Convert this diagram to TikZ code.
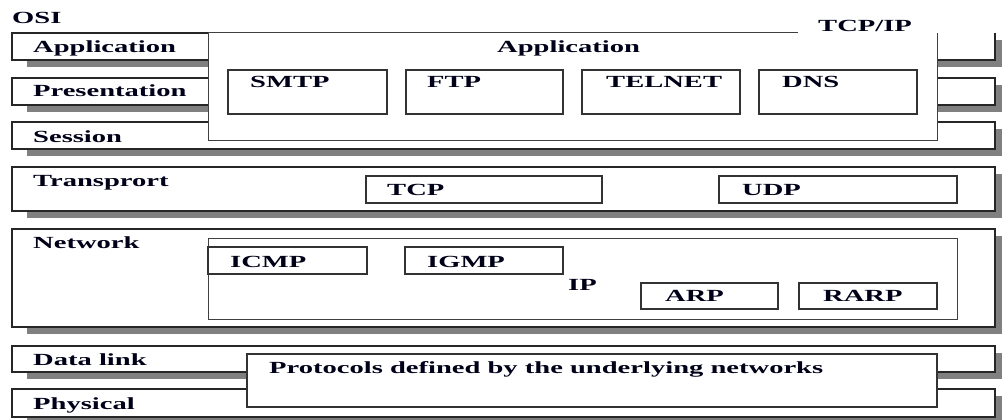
\documentclass[tikz,border=0pt]{standalone}
\usepackage{fontspec}
\newfontfamily\labfont{Liberation Serif}[FakeStretch=1.68]
\begin{document}
\begin{tikzpicture}[x=1pt,y=-1pt,
  lab/.style={anchor=base west, inner sep=0pt, text=black!90!blue, font=\labfont\bfseries\fontsize{17}{20}\selectfont},
  layer/.style={draw=black!85, line width=1.2pt, fill=white},
  inbox/.style={draw=black!80, line width=1.1pt, fill=white},
  shadowc/.style={fill=black!50, draw=none}]
\useasboundingbox (0,0) rectangle (1002,420);
% OSI layer shadows
\foreach \t/\b in {33/60, 78/105, 122/149, 167/211, 229/327, 346/372, 389/417}
  \fill[shadowc] (27,\t+7) rectangle (1003,\b+7);
% Application layer box (top line interrupted at TCP/IP label)
\fill[white] (12,33) rectangle (995,60);
\draw[layer, fill=none] (798,33) -- (12,33) -- (12,60) -- (995,60) -- (995,33);
\draw[layer] (12,78) rectangle (995,105);
\draw[layer] (12,122) rectangle (995,149);
\draw[layer] (12,167) rectangle (995,211);
\draw[layer] (12,229) rectangle (995,327);
\draw[layer] (12,346) rectangle (995,372);
\draw[layer] (12,389) rectangle (995,417);
% TCP/IP application box
\fill[white] (208,33) rectangle (937,140);
\draw[draw=black!75, line width=1pt] (798,33) -- (208,33) -- (208,140) -- (937,140) -- (937,33);
\draw[inbox] (228,70) rectangle (387,114);
\draw[inbox] (406,70) rectangle (563,114);
\draw[inbox] (582,70) rectangle (740,114);
\draw[inbox] (759,70) rectangle (917,114);
% Transport
\draw[inbox] (366,176) rectangle (602,203);
\draw[inbox] (719,176) rectangle (957,203);
% Network
\draw[draw=black!75, line width=1pt, fill=white] (208,238) rectangle (957,319);
\draw[inbox] (208,247) rectangle (367,274);
\draw[inbox] (405,247) rectangle (563,274);
\draw[inbox] (641,283) rectangle (778,309);
\draw[inbox] (799,283) rectangle (937,309);
% Underlying networks
\draw[inbox] (247,354) rectangle (937,407);
% Labels
\node[lab] (osi) at (12,24) {OSI};
\node[lab] (tcpip) at (818,32) {TCP/IP};
\node[lab] (lapp) at (33,53) {Application};
\node[lab] (lpres) at (33,96) {Presentation};
\node[lab] (lsess) at (33,142) {Session};
\node[lab] (ltrans) at (33,186) {Transprort};
\node[lab] (lnet) at (33,248) {Network};
\node[lab] (ldl) at (33,365) {Data link};
\node[lab] (lphy) at (33,409) {Physical};
\node[lab] (tapp) at (497,53) {Application};
\node[lab] (smtp) at (250,88) {SMTP};
\node[lab] (ftp) at (427,88) {FTP};
\node[lab] (telnet) at (606,88) {TELNET};
\node[lab] (dns) at (782,88) {DNS};
\node[lab] (tcp) at (387,195) {TCP};
\node[lab] (udp) at (742,195) {UDP};
\node[lab] (icmp) at (230,267) {ICMP};
\node[lab] (igmp) at (427,267) {IGMP};
\node[lab] (ip) at (568,290) {IP};
\node[lab] (arp) at (665,301) {ARP};
\node[lab] (rarp) at (823,301) {RARP};
\node[lab] (proto) at (269,373) {Protocols defined by the underlying networks};
\end{tikzpicture}
\end{document}
